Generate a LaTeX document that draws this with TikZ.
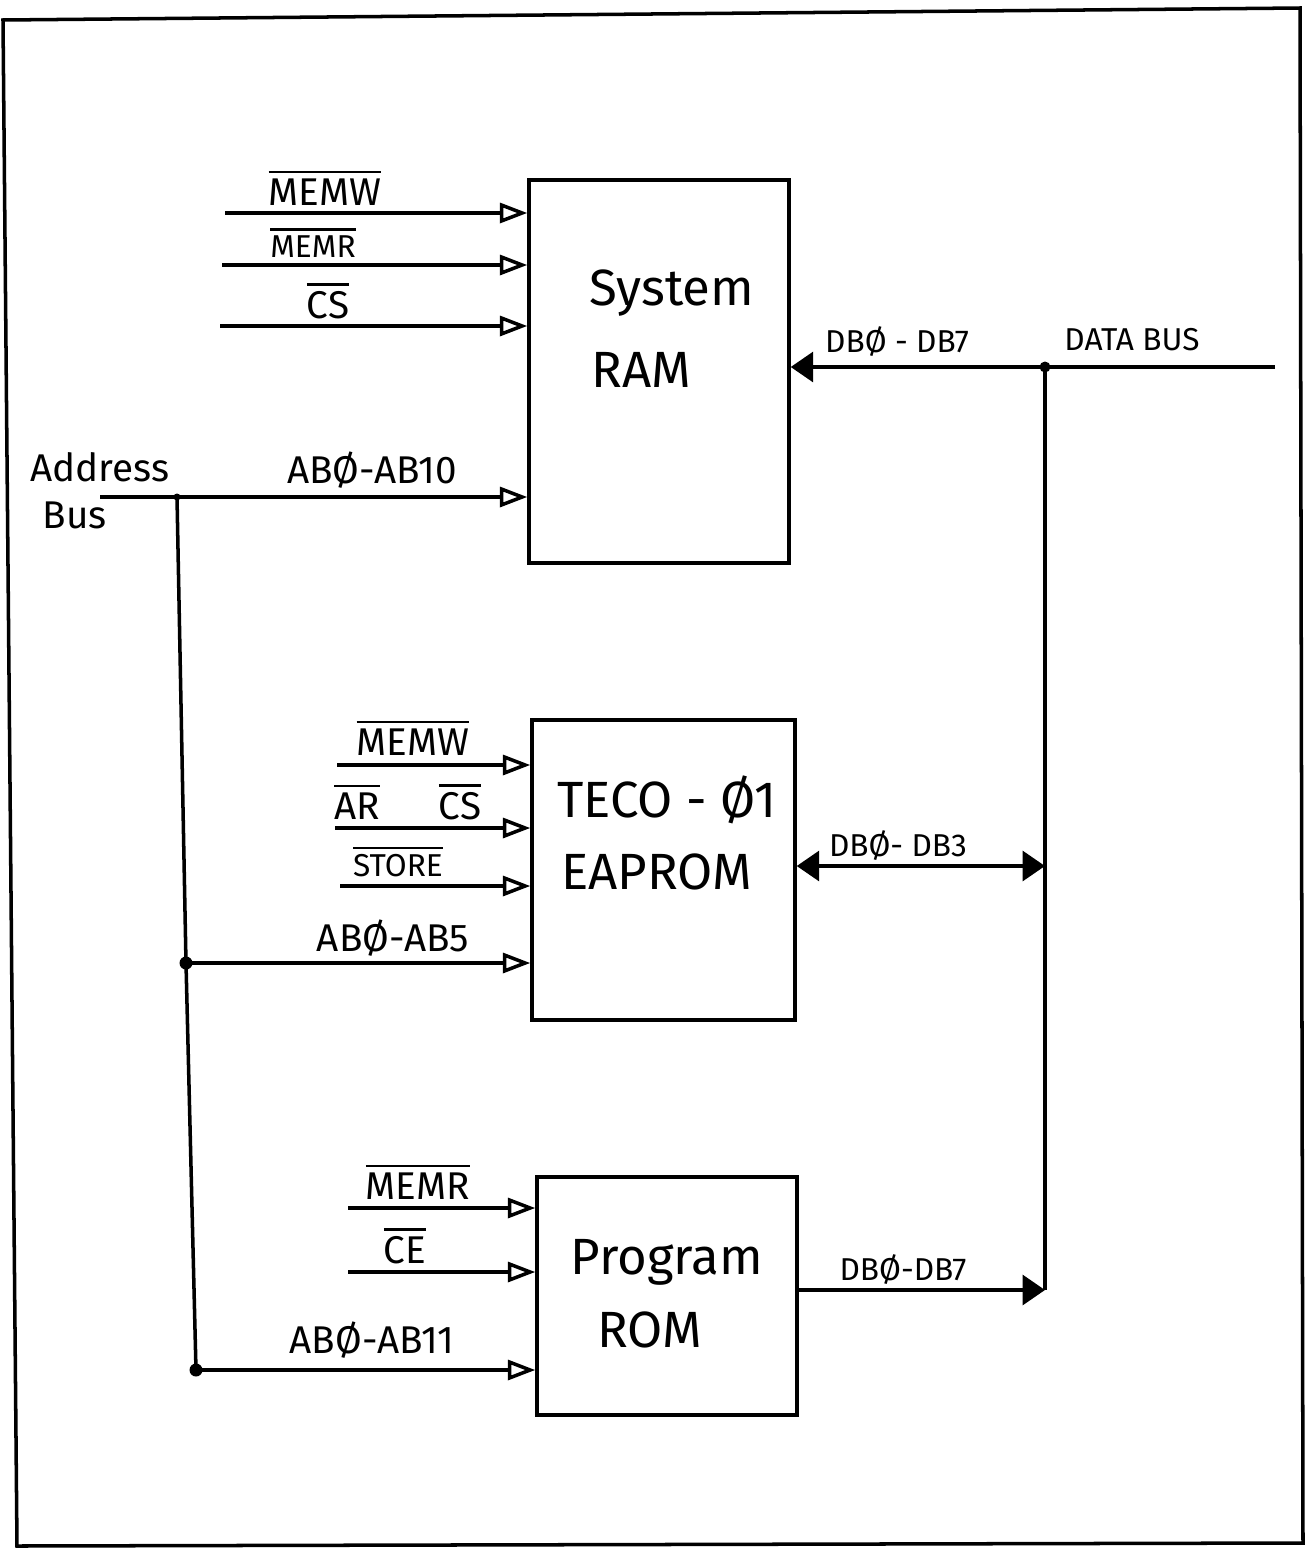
\documentclass[tikz,border=0pt]{standalone}
\usepackage{fontspec}
\setmainfont{Fira Sans}
\usetikzlibrary{arrows.meta}
\newcommand{\ovl}[1]{\vbox{\hrule height 1.3pt\kern 3pt\hbox{#1}}}
\begin{document}
\begin{tikzpicture}[x=0.02cm,y=-0.02cm,
  wire/.style={line width=2pt},
  inp/.style={wire,-{Triangle[open,length=0.55cm,width=0.4cm,line width=2pt]}},
  dat/.style={wire,-{Triangle[length=0.45cm,width=0.6cm]}},
  datb/.style={wire,{Triangle[length=0.45cm,width=0.6cm]}-{Triangle[length=0.45cm,width=0.6cm]}},
  box/.style={draw,line width=2pt,inner sep=0pt},
  lbl/.style={inner sep=0pt,font=\fontsize{22}{24}\selectfont},
  slbl/.style={inner sep=0pt,font=\fontsize{18}{20}\selectfont},
  blbl/.style={inner sep=0pt,font=\fontsize{29}{32}\selectfont},
  dot/.style={circle,fill,inner sep=0pt,minimum size=0.26cm}]
\useasboundingbox (0,0) rectangle (1311,1549);
% outer frame
\draw[line width=2pt] (3,20) -- (1300,8) -- (1303,1543) -- (17,1546) -- cycle;

% boxes
\node[box,minimum width=5.2cm,minimum height=7.66cm] (ram) at (659,371.5) {};
\node[box,minimum width=5.26cm,minimum height=6cm] (teco) at (663.5,870) {};
\node[box,minimum width=5.2cm,minimum height=4.76cm] (rom) at (667,1296) {};
\node[blbl] (ramt1) at (672,293) {System};
\node[blbl] (ramt2) at (641,370) {RAM};
\node[blbl] (tecot1) at (667,800) {TECO - Ø1};
\node[blbl] (tecot2) at (657,872) {EAPROM};
\node[blbl] (romt1) at (667,1262) {Program};
\node[blbl] (romt2) at (650,1330) {ROM};

% coordinates
\coordinate (abs) at (100,497);
\coordinate (j1) at (177,497);
\coordinate (j2) at (186,963);
\coordinate (j3) at (196,1370);
\coordinate (dbs) at (1275,367);
\coordinate (dj) at (1045,367);
\coordinate (d2) at (1045,866);
\coordinate (d3) at (1045,1290);
\coordinate (r1) at (225,213);
\coordinate (r2) at (222,265);
\coordinate (r3) at (220,326);
\coordinate (t1) at (337,765);
\coordinate (t2) at (335,828);
\coordinate (t3) at (340,886);
\coordinate (p1) at (348,1208);
\coordinate (p2) at (348,1272);

% RAM inputs
\draw[inp] (r1) -- (ram.west |- r1);
\draw[inp] (r2) -- (ram.west |- r2);
\draw[inp] (r3) -- (ram.west |- r3);
\draw[inp] (abs) -- (ram.west |- abs);
\node[lbl] (lr1) at (325,188) {\ovl{MEMW}};
\node[slbl] (lr2) at (313,243) {\ovl{MEMR}};
\node[lbl] (lr3) at (328,301) {\ovl{CS}};
\node[lbl] (lab10) at (372,470) {ABØ-AB10};
\node[lbl] (addr1) at (100,467) {Address};
\node[lbl] (addr2) at (75,515) {Bus};

% address bus
\draw[wire] (j1) -- (j2) -- (j3);
\node[dot,minimum size=0.14cm] (dj1) at (j1) {};
\node[dot] (dj2) at (j2) {};
\node[dot] (dj3) at (j3) {};

% TECO inputs
\draw[inp] (t1) -- (teco.west |- t1);
\draw[inp] (t2) -- (teco.west |- t2);
\draw[inp] (t3) -- (teco.west |- t3);
\draw[inp] (j2) -- (teco.west |- j2);
\node[lbl] (lt1) at (413,738) {\ovl{MEMW}};
\node[lbl] (lt2a) at (357,802) {\ovl{AR}};
\node[lbl] (lt2b) at (460,802) {\ovl{CS}};
\node[slbl] (lt3) at (398,862) {\ovl{STORE}};
\node[lbl] (lab5) at (393,938) {ABØ-AB5};

% ROM inputs
\draw[inp] (p1) -- (rom.west |- p1);
\draw[inp] (p2) -- (rom.west |- p2);
\draw[inp] (j3) -- (rom.west |- j3);
\node[lbl] (lp1) at (418,1182) {\ovl{MEMR}};
\node[lbl] (lp2) at (405,1246) {\ovl{CE}};
\node[lbl] (lab11) at (372,1340) {ABØ-AB11};

% data bus
\draw[dat] (dbs) -- (ram.east |- dbs);
\draw[wire] (dj) -- (d3);
\node[dot,minimum size=0.22cm] (ddj) at (dj) {};
\draw[datb] (teco.east |- d2) -- (d2);
\draw[dat] (rom.east |- d3) -- (d3);
\node[slbl] (ld1) at (897,342) {DBØ - DB7};
\node[slbl] (ldb) at (1132,340) {DATA BUS};
\node[slbl] (ld2) at (898,846) {DBØ- DB3};
\node[slbl] (ld3) at (903,1270) {DBØ-DB7};
\end{tikzpicture}
\end{document}
